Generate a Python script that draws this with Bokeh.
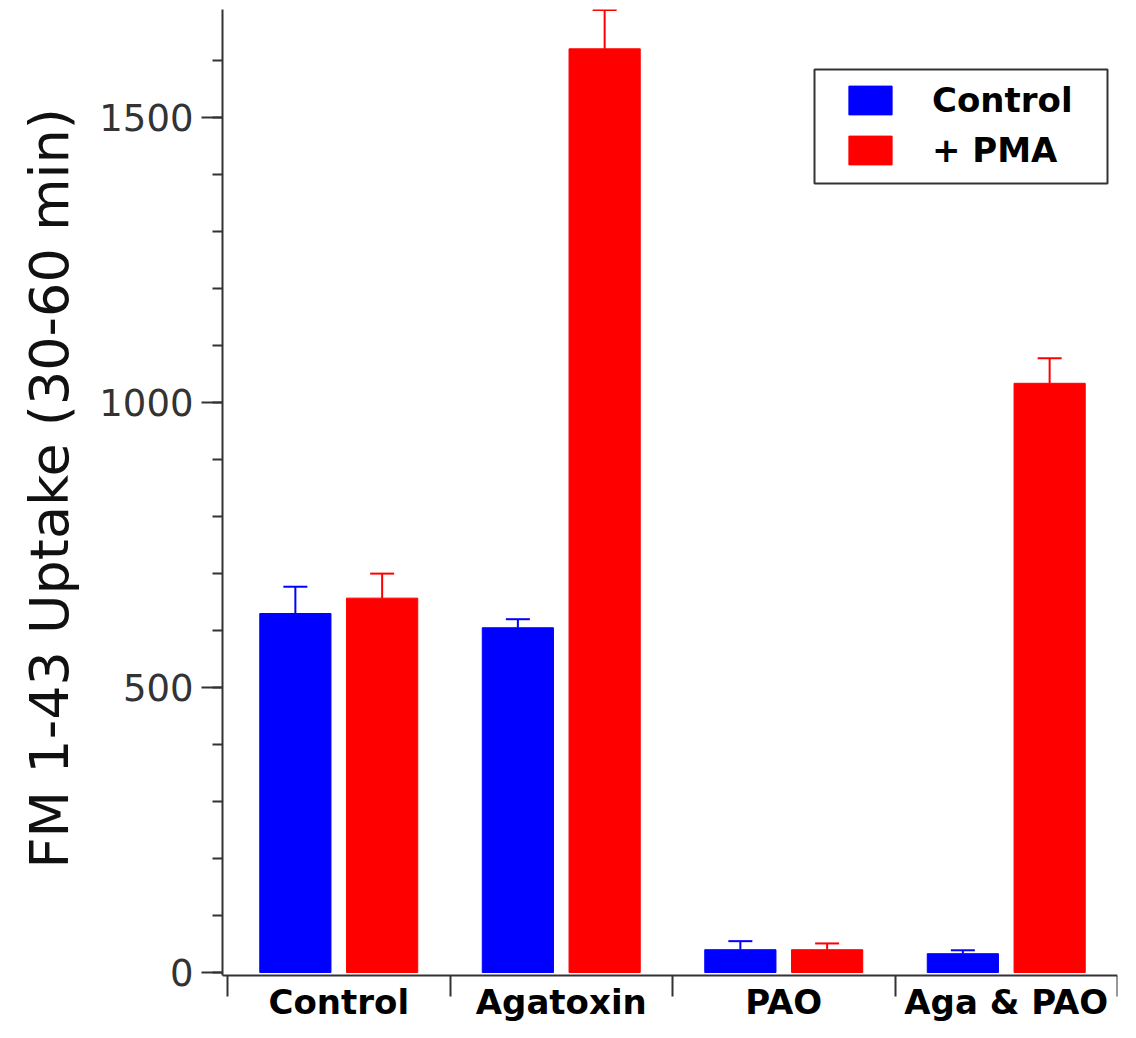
from bokeh.plotting import figure
from bokeh.models import (ColumnDataSource, FixedTicker, Whisker, TeeHead,
                          Legend, LegendItem, Range1d, BoxAnnotation, Title)
from bokeh.core.properties import value
from bokeh.embed import file_html
from bokeh.resources import INLINE

# ---- data ----
categories = ["Control", "Agatoxin", "PAO", "Aga & PAO"]
series_names = ["Control", "+ PMA"]
control_means = [630, 605, 40, 33]
control_errs = [47, 15, 15, 6]
pma_means = [657, 1621, 40, 1034]
pma_errs = [43, 68, 11, 44]
y_ticks = [0, 500, 1000, 1500]
y_minor_ticks = [0, 100, 200, 300, 400, 500, 600, 700, 800, 900, 1000,
                 1100, 1200, 1300, 1400, 1500, 1600]
y_label = "FM 1-43 Uptake (30-60 min)"

# ---- layout / style constants ----
colors = ["#0000FF", "#FF0000"]
offset = 0.195
bar_w = 0.32
y_top = 1690
y_axis_base = -5          # where the category axis sits (just below 0)
y_bottom = -87.75         # extra room inside the frame for category names
cat_label_y = -52.5

centers = [i + 0.5 for i in range(len(categories))]
boundaries = list(range(len(categories) + 1))

p = figure(width=1120, height=1022, output_backend="svg", toolbar_location=None,
           x_range=Range1d(-0.0225, 4.0), y_range=Range1d(y_bottom, y_top),
           min_border_left=222, min_border_right=3, min_border_top=9,
           min_border_bottom=0)
p.outline_line_color = None
p.xgrid.visible = False
p.ygrid.visible = False
p.background_fill_color = "white"

renderers = []
for k, (means, errs) in enumerate([(control_means, control_errs), (pma_means, pma_errs)]):
    sgn = -1 if k == 0 else 1
    src = ColumnDataSource(dict(
        x=[c + sgn * offset for c in centers],
        top=means,
        upper=[m + e for m, e in zip(means, errs)],
    ))
    r = p.vbar(x="x", top="top", bottom=0, width=bar_w, source=src,
               fill_color=colors[k], line_color=colors[k], line_width=1)
    renderers.append(r)
    w = Whisker(base="x", lower="top", upper="upper", source=src, dimension="height",
                line_color=colors[k], line_width=2, lower_head=None,
                upper_head=TeeHead(size=24, line_color=colors[k], line_width=2))
    p.add_layout(w)

axis_col = "#333333"

# y axis
ya = p.yaxis[0]
ya.bounds = (y_axis_base, y_top)
ya.ticker = FixedTicker(ticks=y_ticks, minor_ticks=y_minor_ticks)
ya.axis_line_color = axis_col
ya.axis_line_width = 2
ya.major_tick_line_color = axis_col
ya.major_tick_line_width = 2
ya.minor_tick_line_color = axis_col
ya.minor_tick_line_width = 2
ya.major_tick_out = 21
ya.major_tick_in = 0
ya.minor_tick_out = 10
ya.minor_tick_in = 0
ya.major_label_text_font = "DejaVu Sans"
ya.major_label_text_font_size = "37px"
ya.major_label_text_color = "#333333"
ya.major_label_standoff = 8

# y-axis title (side title, started at a fixed distance from the bottom)
ytitle = Title(text=y_label, align="left", offset=154, standoff=31,
               text_font="DejaVu Sans", text_font_size="54px",
               text_font_style="normal", text_color="#111111")
p.add_layout(ytitle, "left")

# x axis: group-boundary ticks only, fixed just below zero
xa = p.xaxis[0]
xa.fixed_location = y_axis_base
xa.ticker = FixedTicker(ticks=[], minor_ticks=boundaries)
xa.axis_line_color = axis_col
xa.axis_line_width = 2
xa.major_tick_out = 0
xa.major_tick_in = 0
xa.major_tick_line_color = None
xa.minor_tick_line_color = axis_col
xa.minor_tick_line_width = 2
xa.minor_tick_out = 21
xa.minor_tick_in = 0

# category names
p.text(x=centers, y=[cat_label_y] * len(centers), text=categories,
       text_align="center", text_baseline="alphabetic",
       text_font=value("DejaVu Sans"), text_font_size="34px",
       text_font_style="bold", text_color="#000000")

# legend frame (screen units relative to the plot frame)
box = BoxAnnotation(left=592, right=885, bottom=839, top=953,
                    left_units="screen", right_units="screen",
                    bottom_units="screen", top_units="screen",
                    fill_alpha=0, line_color=axis_col, line_width=2, line_alpha=1)
p.add_layout(box)

legend = Legend(items=[LegendItem(label=series_names[i], renderers=[renderers[i]]) for i in range(2)],
                location=(621, 852), glyph_width=54, glyph_height=36, label_standoff=35,
                spacing=10, border_line_color=None, background_fill_alpha=0,
                label_text_font="DejaVu Sans", label_text_font_size="34px",
                label_text_font_style="bold", label_text_color="#000000")
p.add_layout(legend)

open("out.html", "w").write(file_html(p, INLINE))
